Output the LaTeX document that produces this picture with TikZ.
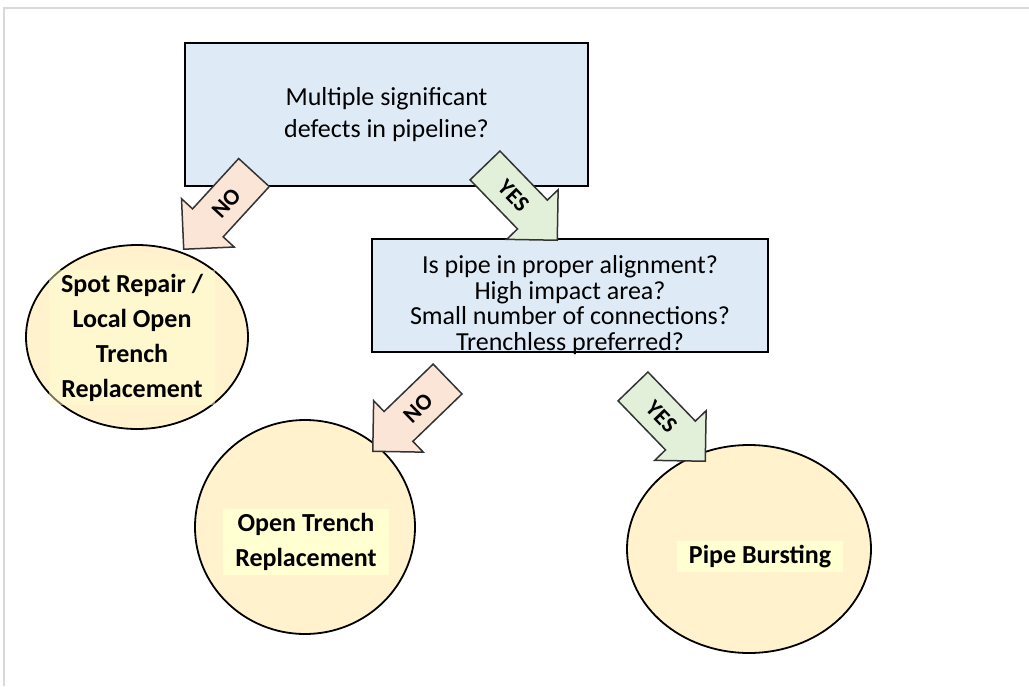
\documentclass[tikz,border=0pt]{standalone}
\usepackage{fontspec}
\setmainfont{Carlito}
\usepackage{tikz}
\usetikzlibrary{shapes.geometric,shapes.arrows,positioning}
\definecolor{BoxBlue}{HTML}{DEEBF7}
\definecolor{EndYellow}{HTML}{FFF2CC}
\definecolor{TagYellow}{HTML}{FFFFD2}
\definecolor{NoPeach}{HTML}{FBE5D6}
\definecolor{YesGreen}{HTML}{E2F0D9}
\definecolor{FrameGray}{HTML}{D9D9D9}

\begin{document}
\begin{tikzpicture}[
    x=1pt, y=-1pt,
    question/.style={
        rectangle,
        draw=black,
        line width=2pt,
        fill=BoxBlue,
        inner sep=0pt,
        align=center,
        font=\fontsize{26}{32}\selectfont
    },
    outcome/.style={
        ellipse,
        draw=black,
        line width=1.8pt,
        fill=EndYellow,
        inner sep=0pt
    },
    tag/.style={
        fill=TagYellow,
        inner xsep=12pt,
        inner ysep=4pt,
        align=center,
        font=\bfseries\fontsize{26}{35}\selectfont
    },
    answer/.style={
        single arrow,
        draw=black!80,
        line width=1.5pt,
        font=\bfseries\fontsize{23}{23}\selectfont,
        text height=16pt, text depth=0pt,
        inner ysep=12pt, inner xsep=0pt,
        single arrow head extend=15pt,
        minimum height=104pt,
        anchor=tip
    },
    noarrow/.style={answer, fill=NoPeach, shape border rotate=180},
    yesarrow/.style={answer, fill=YesGreen}
]
    \useasboundingbox (0,0) rectangle (1029,686);
    \draw[FrameGray, line width=2pt] (4,686) |- (1029,8);

    % questions
    \node[question, minimum width=403pt, minimum height=143pt] (defects) at (386.5,114.5)
        {Multiple significant\\defects in pipeline?};
    \node[question, minimum width=396pt, minimum height=113pt] (check) at (570,295.5) {};
    \node[align=center, inner sep=0pt, font=\fontsize{26}{25.7}\selectfont] (checktext) at (570,305)
        {Is pipe in proper alignment?\\High impact area?\\Small number of connections?\\Trenchless preferred?};

    % outcomes
    \node[outcome, minimum width=222pt, minimum height=184pt] (spot) at (137,337) {};
    \node[tag, fill opacity=0.45, text opacity=1] (spottext) at (132,337.5)
        {Spot Repair /\\Local Open\\Trench\\Replacement};
    \node[outcome, minimum width=220pt, minimum height=214pt] (open) at (305,527) {};
    \node[tag] (opentext) at (306,542) {Open Trench\\Replacement};
    \node[outcome, minimum width=244pt, minimum height=208pt] (burst) at (749,549) {};
    \node[tag] (bursttext) at (760,556.5) {Pipe Bursting};

    % answers (placed by their tips)
    \node[noarrow, rotate=47.5] (no1) at (183,250) {NO};
    \node[yesarrow, rotate=-46] (yes1) at (558,241) {YES};
    \node[noarrow, rotate=44] (no2) at (372,452) {NO};
    \node[yesarrow, rotate=-46] (yes2) at (706,462) {YES};
\end{tikzpicture}
\end{document}
